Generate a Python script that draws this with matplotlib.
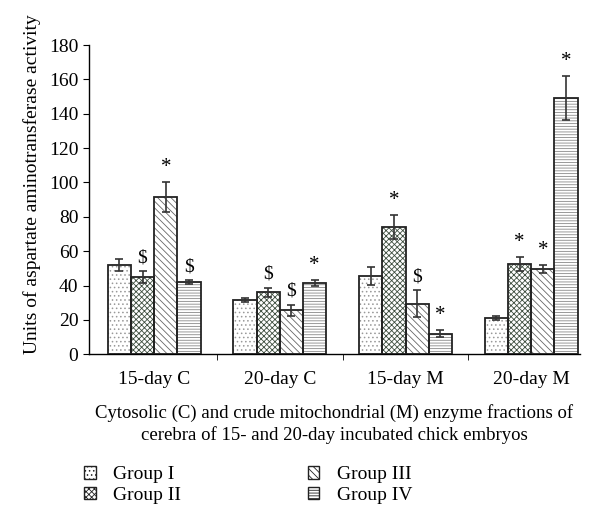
import numpy as np
import matplotlib.pyplot as plt
from matplotlib.patches import Patch

plt.rcParams['font.family'] = ['Liberation Serif', 'DejaVu Serif']
plt.rcParams['hatch.linewidth'] = 0.6

categories = ['15-day C', '20-day C', '15-day M', '20-day M']
groups = ['Group I', 'Group II', 'Group III', 'Group IV']
values = {
    'Group I':   [52, 31.5, 45.5, 21],
    'Group II':  [45, 36, 74, 52.5],
    'Group III': [91.5, 25.5, 29.5, 49.5],
    'Group IV':  [42, 41.5, 12, 149],
}
errors = {
    'Group I':   [3.3, 1.0, 5.2, 1.3],
    'Group II':  [3.3, 2.7, 7.2, 4.0],
    'Group III': [8.5, 3.3, 7.7, 2.3],
    'Group IV':  [1.0, 1.5, 1.8, 12.8],
}
marks = {
    'Group I':   ['', '', '', ''],
    'Group II':  ['$', '$', '*', '*'],
    'Group III': ['*', '$', '$', '*'],
    'Group IV':  ['$', '*', '*', '*'],
}
hatches = {'Group I': '....', 'Group II': 'xxxxxx', 'Group III': '\\\\\\\\\\', 'Group IV': '------'}
hatch_colors = {'Group I': '#999999', 'Group II': '#3f4f40', 'Group III': '#666666', 'Group IV': '#888888'}

fig = plt.figure(figsize=(6, 5.31), dpi=100)
ax = fig.add_axes([0.148, 0.333, 0.819, 0.582])

x = np.arange(len(categories))
w = 0.185
for i, g in enumerate(groups):
    pos = x + (i - 1.5) * w
    ax.bar(pos, values[g], w, facecolor='white', edgecolor=hatch_colors[g],
           hatch=hatches[g], linewidth=0, zorder=2)
    ax.bar(pos, values[g], w, facecolor='none', edgecolor='#222222',
           linewidth=1.3, zorder=3)
    ax.errorbar(pos, values[g], yerr=errors[g], fmt='none', ecolor='#333333',
                elinewidth=1.2, capsize=3, capthick=1.2, zorder=4)
    for p, v, e, m in zip(pos, values[g], errors[g], marks[g]):
        if m:
            ax.text(p, v + e + 3, m, ha='center', va='bottom',
                    fontsize=14 if m == '$' else 15)

ax.set_xlim(-0.52, 3.39)
ax.set_ylim(0, 180)
ax.set_yticks(np.arange(0, 181, 20))
ax.set_xticks(x)
ax.set_xticklabels(categories, fontsize=14)
ax.set_xticks([0.5, 1.5, 2.5], minor=True)
ax.tick_params(axis='x', which='major', length=0, pad=12)
ax.tick_params(axis='x', which='minor', length=4, direction='out')
ax.tick_params(axis='y', labelsize=14, length=4, direction='out')
for s in ['top', 'right']:
    ax.spines[s].set_visible(False)
for s in ['left', 'bottom']:
    ax.spines[s].set_linewidth(1.0)

ax.set_ylabel('Units of aspartate aminotransferase activity', fontsize=14)
ax.yaxis.set_label_coords(-0.098, 0.55)
ax.set_xlabel('Cytosolic (C) and crude mitochondrial (M) enzyme fractions of\n'
              'cerebra of 15- and 20-day incubated chick embryos',
              fontsize=13.5, labelpad=12, linespacing=1.25)

handles = [Patch(facecolor='white', edgecolor='#222222', hatch=hatches[g], linewidth=1.0)
           for g in groups]
fig.legend(handles, groups, loc='upper left', bbox_to_anchor=(0.14, 0.122),
           ncol=2, frameon=False, fontsize=14, handlelength=0.6, handleheight=0.6,
           columnspacing=6.5, labelspacing=0.2, handletextpad=0.9,
           borderaxespad=0, borderpad=0)

fig.savefig('out.png', dpi=100)
